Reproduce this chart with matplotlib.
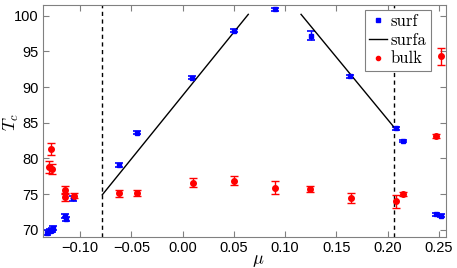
import numpy as np
import matplotlib
matplotlib.use('Agg')
import matplotlib.pyplot as plt

plt.rcParams.update({'font.family': ['Liberation Sans', 'DejaVu Sans'],
                     'mathtext.fontset': 'cm',
                     'font.size': 10.5})

# surface data
surf_mu = [-0.132, -0.130, -0.128, -0.127, -0.115, -0.114, -0.107, -0.0622, -0.0449,
           0.0094, 0.0504, 0.0901, 0.125, 0.1634, 0.2083, 0.2148, 0.247, 0.2523]
surf_tc = [69.6, 69.8, 70.0, 70.2, 71.9, 71.5, 74.4, 79.1, 83.6,
           91.3, 97.9, 100.9, 97.2, 91.5, 84.2, 82.4, 72.2, 72.0]
surf_err = [0.3, 0.3, 0.3, 0.3, 0.3, 0.3, 0.3, 0.25, 0.2,
            0.2, 0.2, 0.2, 0.6, 0.25, 0.2, 0.15, 0.2, 0.15]

# surface fit segments
fit1_mu = [-0.0785, 0.064]
fit1_tc = [74.9, 100.2]
fit2_mu = [0.1155, 0.2067]
fit2_tc = [100.2, 84.3]

# bulk data
bulk_mu = [-0.1286, -0.1306, -0.1273, -0.115, -0.115, -0.106, -0.0619, -0.0443,
           0.0104, 0.0501, 0.0901, 0.1243, 0.164, 0.2083, 0.2154, 0.2474, 0.252]
bulk_tc = [81.3, 78.8, 78.5, 75.6, 74.6, 74.8, 75.1, 75.2,
           76.6, 76.9, 75.9, 75.7, 74.5, 74.0, 75.0, 83.1, 94.3]
bulk_err = [0.8, 0.8, 0.7, 0.6, 0.5, 0.4, 0.5, 0.4,
            0.6, 0.6, 0.9, 0.4, 0.7, 0.9, 0.3, 0.3, 1.2]

# vertical markers
vlines = [-0.0785, 0.2067]

fig, ax = plt.subplots(figsize=(4.57, 2.68), dpi=100)
fig.subplots_adjust(left=0.094, right=0.976, top=0.981, bottom=0.116)

for v in vlines:
    ax.axvline(v, color='k', ls='--', lw=1, dashes=(3, 2.5))

ax.errorbar(surf_mu, surf_tc, yerr=surf_err, fmt='s', color='b', ms=3,
            capsize=3, elinewidth=1, capthick=1.2)
ax.plot(fit1_mu, fit1_tc, color='k', lw=1)
ax.plot(fit2_mu, fit2_tc, color='k', lw=1)
ax.errorbar(bulk_mu, bulk_tc, yerr=bulk_err, fmt='o', color='r', ms=4,
            capsize=3, elinewidth=1, capthick=1)

h1, = ax.plot([], [], 's', color='b', ms=2.5)
h2, = ax.plot([], [], color='k', lw=1)
h3, = ax.plot([], [], 'o', color='r', ms=3)
leg = ax.legend([h1, h2, h3], ['surf', 'surfa', 'bulk'], loc='upper right',
                bbox_to_anchor=(0.97, 0.995), handlelength=1.1, handletextpad=0.2,
                borderpad=0.25, labelspacing=0.2, borderaxespad=0.2,
                fancybox=False, edgecolor='gray', framealpha=1,
                prop={'family': 'cmr10', 'size': 12})
leg.get_frame().set_linewidth(0.8)

ax.set_xlim(-0.1364, 0.257)
ax.set_ylim(69.0, 101.5)
ax.set_xticks([-0.10, -0.05, 0.00, 0.05, 0.10, 0.15, 0.20, 0.25])
ax.set_xticklabels(['\u22120.10', '\u22120.05', '0.00', '0.05', '0.10', '0.15', '0.20', '0.25'])
ax.set_yticks([70, 75, 80, 85, 90, 95, 100])
ax.tick_params(direction='in', top=True, right=True, colors='gray',
               labelcolor='black', labelsize=10.5, length=4, pad=3)

for s in ax.spines.values():
    s.set_color('gray')

ax.set_xlabel(r'$\mu$', fontsize=13)
ax.xaxis.set_label_coords(0.533, -0.1)
ax.xaxis.label.set_va('center')
ax.set_ylabel(r'$T_c$', fontsize=13)
ax.yaxis.set_label_coords(-0.077, 0.496)
ax.yaxis.label.set_va('center')

plt.savefig('out.png', dpi=100)
